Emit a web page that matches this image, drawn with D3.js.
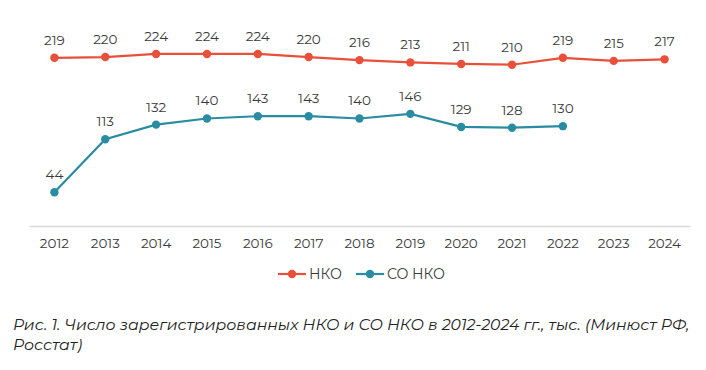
<!DOCTYPE html>
<html>
<head>
<meta charset="utf-8">
<title>НКО и СО НКО</title>
<style>
  body { margin: 0; background: #fff; }
  svg text { font-family: "Montserrat", "Lato", "Open Sans", sans-serif; }
</style>
</head>
<body>
<svg width="706" height="370"></svg>
<script src="https://d3js.org/d3.v7.min.js"></script>
<script>

    var years = ["2012", "2013", "2014", "2015", "2016", "2017", "2018", "2019", "2020", "2021", "2022", "2023", "2024"];
    var nko = [219, 220, 224, 224, 224, 220, 216, 213, 211, 210, 219, 215, 217];
    var soNko = [44, 113, 132, 140, 143, 143, 140, 146, 129, 128, 130];
    var seriesNames = ["НКО", "СО НКО"];
    var colors = ["#e8503a", "#2a8ca3"];
    var caption = ["Рис. 1. Число зарегистрированных НКО и СО НКО в 2012-2024 гг., тыс. (Минюст РФ,",
                   "Росстат)"];

    var svg = d3.select("svg");

    var x = d3.scaleBand()
        .domain(years)
        .range([29, 690]);

    var y = d3.scaleLinear()
        .domain([0, 250])
        .range([226, 34]);

    var cx = function (d, i) { return x(years[i]) + x.bandwidth() / 2; };

    // axis line + year labels
    var xAxis = svg.append("g")
        .attr("transform", "translate(0,226)")
        .call(d3.axisBottom(x).tickSize(0).tickPadding(12));
    xAxis.select(".domain").attr("stroke", "#d9d9d9").attr("stroke-width", 1.3);
    xAxis.selectAll("text")
        .attr("font-size", 13.5)
        .attr("fill", "#3a3a3a")
        .style("font-family", "Montserrat, Lato, 'Open Sans', sans-serif");

    var line = d3.line()
        .x(cx)
        .y(function (d) { return y(d); });

    [nko, soNko].forEach(function (data, k) {
        var g = svg.append("g");
        g.append("path")
            .datum(data)
            .attr("fill", "none")
            .attr("stroke", colors[k])
            .attr("stroke-width", 2.2)
            .attr("d", line);
        g.selectAll("circle")
            .data(data)
            .enter().append("circle")
            .attr("cx", cx)
            .attr("cy", function (d) { return y(d); })
            .attr("r", 4.2)
            .attr("fill", colors[k]);
        g.selectAll("text")
            .data(data)
            .enter().append("text")
            .attr("x", cx)
            .attr("y", function (d) { return y(d) - 13; })
            .attr("text-anchor", "middle")
            .attr("font-size", 13.5)
            .attr("fill", "#3a3a3a")
            .text(function (d) { return d; });
    });

    // legend
    var legendX = [278, 356];
    seriesNames.forEach(function (name, k) {
        var lg = svg.append("g").attr("transform", "translate(" + legendX[k] + ",274)");
        lg.append("line")
            .attr("x1", 0).attr("x2", 28)
            .attr("stroke", colors[k]).attr("stroke-width", 2.2);
        lg.append("circle")
            .attr("cx", 14).attr("r", 4.2)
            .attr("fill", colors[k]);
        lg.append("text")
            .attr("x", 31).attr("dy", "0.35em")
            .attr("font-size", 14)
            .attr("fill", "#3a3a3a")
            .text(name);
    });

    // caption
    svg.selectAll(".caption")
        .data(caption)
        .enter().append("text")
        .attr("class", "caption")
        .attr("x", 13)
        .attr("y", function (d, i) { return 330 + i * 20; })
        .attr("font-size", 15.7)
        .attr("font-style", "italic")
        .attr("fill", "#222")
        .text(function (d) { return d; });

</script>
</body>
</html>
